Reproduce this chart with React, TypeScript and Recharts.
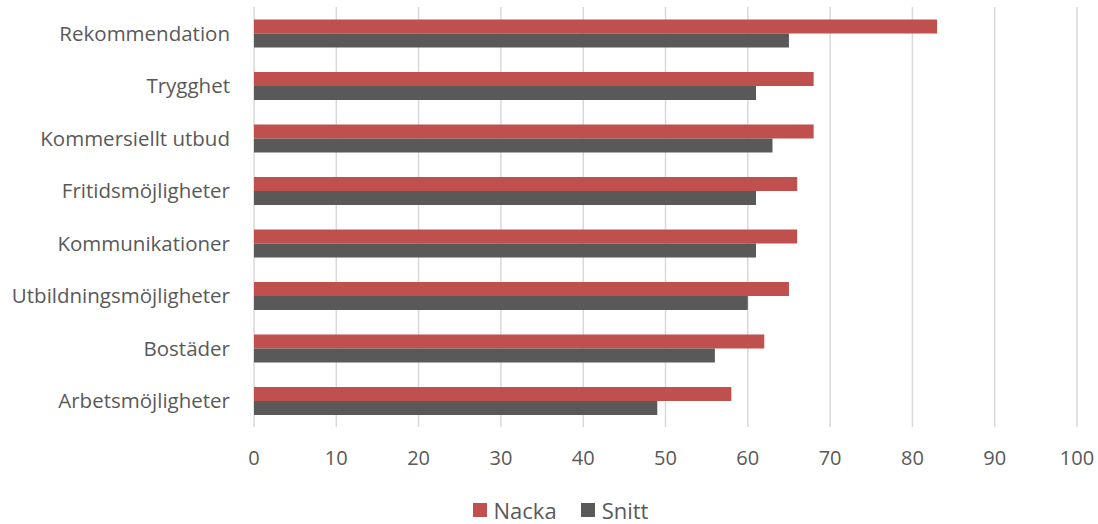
import { BarChart, Bar, XAxis, YAxis, CartesianGrid, Legend } from "recharts";

const categories = [
  "Rekommendation",
  "Trygghet",
  "Kommersiellt utbud",
  "Fritidsmöjligheter",
  "Kommunikationer",
  "Utbildningsmöjligheter",
  "Bostäder",
  "Arbetsmöjligheter",
];
const nacka = [83, 68, 68, 66, 66, 65, 62, 58];
const snitt = [65, 61, 63, 61, 61, 60, 56, 49];
const xTicks = [0, 10, 20, 30, 40, 50, 60, 70, 80, 90, 100];

const series = [
  { key: "nacka", name: "Nacka", color: "#C0504D" },
  { key: "snitt", name: "Snitt", color: "#595959" },
];

const data = categories.map((name, i) => ({ name, nacka: nacka[i], snitt: snitt[i] }));

const font = "'Open Sans', sans-serif";
const textColor = "#595959";

function LegendContent() {
  return (
    <div style={{ display: "flex", justifyContent: "center", alignItems: "center", fontFamily: font, fontSize: 22, lineHeight: "22px", color: textColor, paddingLeft: 44, paddingTop: 10 }}>
      {series.map((s, i) => (
        <div key={s.key} style={{ display: "flex", alignItems: "center", marginRight: i === 0 ? 24 : 0 }}>
          <span style={{ display: "inline-block", width: 14, height: 14, background: s.color, marginRight: 7 }} />
          <span>{s.name}</span>
        </div>
      ))}
    </div>
  );
}

export default function App() {
  return (
    <div style={{ position: "absolute", left: 0, top: 0, background: "#fff" }}>
      <BarChart
        width={1098}
        height={524}
        data={data}
        layout="vertical"
        margin={{ top: 7, right: 21, left: 0, bottom: 0 }}
        barCategoryGap="24%"
        barGap={0}
      >
        <CartesianGrid horizontal={false} stroke="#d9d9d9" strokeWidth={1.5} />
        <XAxis
          type="number"
          domain={[0, 100]}
          ticks={xTicks}
          axisLine={false}
          tickLine={false}
          tickSize={0}
          tickMargin={24}
          height={62}
          tick={{ fontFamily: font, fontSize: 20, fill: textColor }}
        />
        <YAxis
          type="category"
          dataKey="name"
          width={254}
          axisLine={false}
          tickLine={false}
          tickSize={0}
          tickMargin={24}
          tick={{ fontFamily: font, fontSize: 20.5, fill: textColor }}
        />
        <Legend verticalAlign="bottom" content={LegendContent} wrapperStyle={{ height: 35, overflow: "visible" }} />
        {series.map((s) => (
          <Bar key={s.key} dataKey={s.key} name={s.name} fill={s.color} isAnimationActive={false} />
        ))}
      </BarChart>
    </div>
  );
}
